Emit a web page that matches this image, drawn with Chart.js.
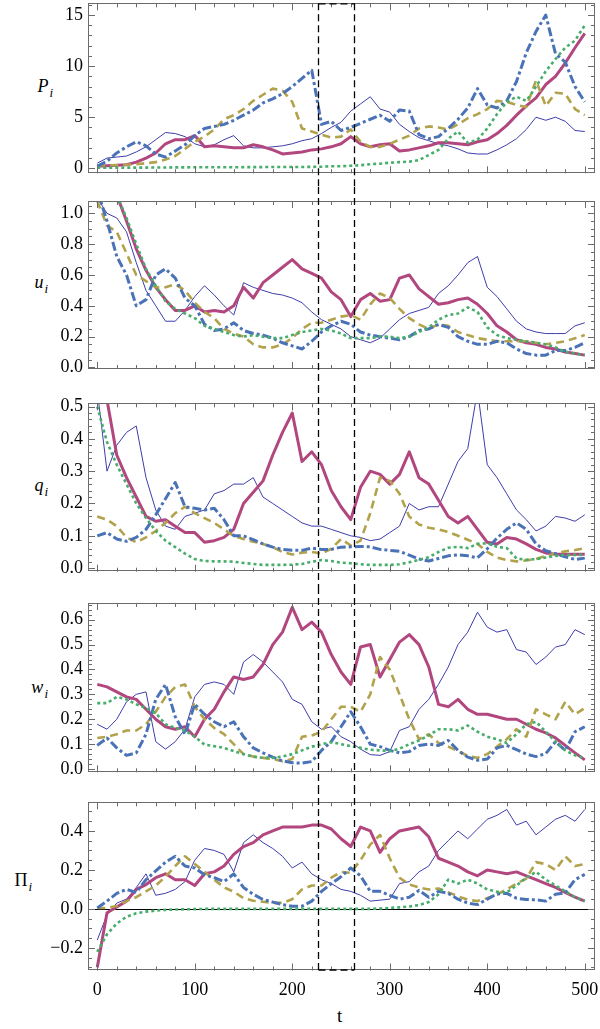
<!DOCTYPE html>
<html>
<head>
<meta charset="utf-8">
<script src="https://cdn.jsdelivr.net/npm/chart.js@4.4.1/dist/chart.umd.min.js"></script>
<style>
  body { margin: 0; background: #fff; }
  #wrap { position: relative; width: 600px; height: 1029px; font-family: 'Liberation Serif', 'Times New Roman', serif; }
  #wrap canvas { position: absolute; left: 0; }
  .ylab { position: absolute; font-size: 18px; line-height: 18px; font-style: italic; white-space: nowrap; text-align: right; }
  .ylab .sub { font-size: 13px; position: relative; top: 5px; margin-left: 1px; }
  .ylab.up { font-style: normal; }
  .ylab.up .sub { font-style: italic; }
  #tlab { position: absolute; left: 337px; top: 1006px; font-size: 19px; line-height: 19px; }
</style>
</head>
<body>
<div id="wrap">
  <div class="ylab" style="right:547px; top:77px;">P<span class="sub">i</span></div>
  <div class="ylab" style="right:552px; top:273px;">u<span class="sub">i</span></div>
  <div class="ylab" style="right:552px; top:476px;">q<span class="sub">i</span></div>
  <div class="ylab" style="right:552px; top:678px;">w<span class="sub">i</span></div>
  <div class="ylab up" style="right:568px; top:871px;">Π<span class="sub">i</span></div>
  <div id="tlab">t</div>
</div>
<script>
// time grid
const tVals = [0,10,20,30,40,50,60,70,80,90,100,110,120,130,140,150,160,170,180,190,
  200,210,220,230,240,250,260,270,280,290,300,310,320,330,340,350,360,370,380,390,
  400,410,420,430,440,450,460,470,480,490,500];

// P_i
const pA = [0.5,1.0,1.1,1.2,1.6,2.1,2.8,3.5,3.4,3.1, 2.4,2.1,2.3,2.8,3.2,2.2,2.0,2.0,2.1,2.2,
  2.4,2.7,2.9,3.4,4.0,4.5,5.6,6.3,7.0,5.8, 5.5,4.3,3.6,3.0,2.7,2.4,2.2,1.9,1.5,1.4,
  1.4,1.8,2.3,2.9,3.8,5.0,4.7,5.0,4.6,3.7, 3.6];
const pB = [0.2,0.25,0.3,0.35,0.6,1.0,1.5,2.4,2.8,2.8, 3.2,2.1,2.2,2.1,2.0,2.0,2.3,2.1,1.8,1.4,
  1.5,1.6,1.8,1.9,2.1,2.4,3.1,2.4,2.1,2.3, 2.4,1.7,1.8,2.0,2.2,2.5,2.5,2.4,2.3,2.6,
  2.8,3.4,4.2,5.2,6.1,6.9,8.2,9.0,10.3,11.8, 13.2];
const pC = [0.3,0.3,0.3,0.35,0.4,0.5,0.6,0.85,1.2,1.9, 2.6,3.1,3.8,4.8,5.2,5.8,6.6,7.2,7.8,7.6,
  6.5,3.9,3.6,3.3,3.0,3.1,3.8,2.6,2.1,2.1, 2.4,2.8,3.2,3.9,4.1,4.0,3.8,4.3,4.9,5.3,
  5.8,6.6,6.5,6.2,6.0,8.6,6.1,7.4,7.3,5.8, 5.2];
const pD = [0.2,0.7,1.5,2.1,2.6,2.2,1.4,1.1,1.7,2.3, 3.2,3.9,4.1,4.3,4.7,5.2,5.7,6.4,6.8,7.3,
  8.0,8.8,9.6,4.3,4.6,3.7,4.0,4.4,4.8,5.2, 4.6,5.7,5.6,3.3,2.9,3.1,3.9,4.8,5.9,7.8,
  6.2,5.9,6.6,8.5,11.3,13.4,15.0,11.2,10.4,8.0, 6.5];
const pE = [0.05,0.05,0.06,0.06,0.07,0.07,0.08,0.08,0.09,0.09, 0.1,0.1,0.1,0.1,0.1,0.11,0.11,0.12,0.12,0.12,
  0.13,0.13,0.14,0.15,0.2,0.2,0.25,0.3,0.4,0.45, 0.55,0.6,0.65,0.8,1.3,1.8,2.9,3.6,2.5,2.8,
  3.9,5.3,6.5,7.0,6.6,8.0,9.5,10.7,11.8,12.5, 14.0];

// u_i
const uA = [1.1,1.0,0.97,0.88,0.68,0.5,0.4,0.3,0.3,0.37, 0.46,0.53,0.47,0.4,0.34,0.55,0.52,0.5,0.48,0.47,
  0.45,0.42,0.36,0.31,0.28,0.25,0.2,0.18,0.16,0.19, 0.25,0.31,0.35,0.37,0.39,0.48,0.53,0.6,0.68,0.72,
  0.52,0.46,0.38,0.3,0.25,0.23,0.22,0.22,0.22,0.27, 0.29];
const uB = [1.35,1.22,1.12,0.95,0.77,0.63,0.52,0.44,0.37,0.37, 0.4,0.36,0.37,0.36,0.4,0.52,0.45,0.55,0.6,0.65,
  0.7,0.64,0.61,0.58,0.49,0.44,0.33,0.44,0.48,0.43, 0.44,0.58,0.6,0.51,0.46,0.41,0.42,0.44,0.45,0.41,
  0.35,0.27,0.23,0.18,0.16,0.15,0.13,0.12,0.1,0.09, 0.08];
const uC = [1.08,0.92,0.88,0.74,0.6,0.56,0.52,0.52,0.54,0.5, 0.42,0.36,0.32,0.25,0.22,0.2,0.15,0.13,0.13,0.15,
  0.19,0.25,0.29,0.29,0.31,0.33,0.34,0.31,0.41,0.48, 0.45,0.38,0.32,0.28,0.25,0.28,0.27,0.23,0.21,0.19,
  0.18,0.17,0.17,0.17,0.17,0.16,0.15,0.16,0.17,0.19, 0.21];
const uD = [1.15,0.95,0.72,0.6,0.4,0.44,0.6,0.64,0.58,0.45, 0.4,0.28,0.24,0.25,0.29,0.24,0.22,0.21,0.19,0.16,
  0.14,0.12,0.17,0.23,0.27,0.3,0.28,0.23,0.21,0.2, 0.19,0.18,0.2,0.24,0.25,0.28,0.26,0.2,0.17,0.15,
  0.15,0.17,0.16,0.12,0.09,0.08,0.08,0.11,0.11,0.13, 0.16];
const uE = [1.4,1.25,1.12,0.97,0.8,0.64,0.53,0.43,0.38,0.35, 0.32,0.27,0.25,0.23,0.21,0.2,0.21,0.2,0.19,0.19,
  0.21,0.23,0.24,0.25,0.24,0.22,0.19,0.19,0.19,0.2, 0.2,0.19,0.2,0.23,0.26,0.31,0.34,0.35,0.39,0.36,
  0.26,0.21,0.19,0.18,0.17,0.16,0.15,0.13,0.1,0.09, 0.08];

// q_i
const qA = [0.55,0.3,0.38,0.42,0.44,0.28,0.18,0.13,0.12,0.16, 0.17,0.18,0.23,0.24,0.26,0.26,0.28,0.22,0.2,0.18,
  0.16,0.14,0.13,0.13,0.12,0.11,0.1,0.095,0.085,0.09, 0.11,0.13,0.2,0.18,0.19,0.19,0.26,0.33,0.37,0.55,
  0.32,0.28,0.23,0.18,0.15,0.115,0.13,0.16,0.155,0.145, 0.165];
const qB = [0.75,0.52,0.35,0.28,0.22,0.16,0.145,0.15,0.13,0.11, 0.11,0.08,0.085,0.095,0.12,0.2,0.235,0.27,0.35,0.42,
  0.48,0.33,0.36,0.32,0.24,0.19,0.15,0.25,0.3,0.29, 0.26,0.29,0.36,0.28,0.26,0.21,0.16,0.14,0.16,0.12,
  0.08,0.075,0.095,0.09,0.075,0.058,0.047,0.043,0.043,0.043, 0.043];
const qC = [0.16,0.15,0.13,0.095,0.08,0.095,0.115,0.14,0.17,0.19, 0.17,0.155,0.14,0.12,0.1,0.09,0.082,0.075,0.065,0.05,
  0.042,0.048,0.05,0.045,0.06,0.09,0.07,0.085,0.17,0.28, 0.27,0.23,0.16,0.135,0.125,0.12,0.112,0.1,0.088,0.075,
  0.05,0.033,0.025,0.021,0.024,0.028,0.038,0.045,0.052,0.056, 0.062];
const qD = [0.1,0.11,0.09,0.083,0.095,0.12,0.165,0.215,0.265,0.19, 0.185,0.18,0.185,0.15,0.1,0.1,0.088,0.075,0.065,0.058,
  0.055,0.055,0.062,0.058,0.058,0.065,0.066,0.067,0.066,0.058, 0.055,0.052,0.04,0.028,0.022,0.03,0.038,0.041,0.038,0.032,
  0.06,0.093,0.12,0.14,0.12,0.075,0.054,0.045,0.035,0.027, 0.031];
const qE = [0.5,0.39,0.32,0.26,0.2,0.155,0.115,0.085,0.065,0.045, 0.028,0.022,0.021,0.021,0.02,0.016,0.013,0.01,0.01,0.01,
  0.011,0.013,0.02,0.025,0.022,0.017,0.015,0.012,0.01,0.01, 0.01,0.012,0.018,0.026,0.034,0.05,0.063,0.066,0.062,0.075,
  0.077,0.066,0.062,0.03,0.026,0.028,0.033,0.038,0.041,0.041, 0.041];

// w_i
const wA = [0.18,0.16,0.2,0.27,0.3,0.31,0.11,0.08,0.11,0.16, 0.29,0.34,0.35,0.34,0.3,0.43,0.46,0.43,0.39,0.35,
  0.28,0.26,0.19,0.16,0.17,0.13,0.11,0.08,0.058,0.055, 0.07,0.155,0.17,0.24,0.28,0.34,0.41,0.5,0.55,0.63,
  0.57,0.55,0.56,0.48,0.47,0.42,0.45,0.49,0.5,0.56, 0.54];
const wB = [0.34,0.33,0.31,0.29,0.28,0.24,0.2,0.17,0.16,0.17, 0.13,0.2,0.24,0.31,0.37,0.36,0.37,0.42,0.5,0.55,
  0.65,0.56,0.59,0.55,0.46,0.39,0.34,0.49,0.5,0.37, 0.44,0.51,0.54,0.5,0.41,0.26,0.25,0.28,0.24,0.22,
  0.22,0.21,0.2,0.2,0.18,0.16,0.145,0.125,0.095,0.065, 0.037];
const wC = [0.125,0.13,0.14,0.155,0.155,0.18,0.23,0.29,0.33,0.34, 0.25,0.2,0.165,0.14,0.1,0.06,0.05,0.045,0.04,0.031,
  0.04,0.13,0.135,0.15,0.2,0.25,0.25,0.23,0.3,0.45, 0.4,0.3,0.2,0.12,0.14,0.105,0.09,0.072,0.053,0.045,
  0.06,0.09,0.12,0.16,0.13,0.24,0.22,0.2,0.27,0.22, 0.245];
const wD = [0.095,0.125,0.085,0.055,0.065,0.14,0.28,0.34,0.21,0.14, 0.26,0.22,0.19,0.17,0.19,0.13,0.085,0.065,0.048,0.033,
  0.025,0.024,0.03,0.075,0.11,0.17,0.23,0.17,0.1,0.09, 0.075,0.065,0.07,0.095,0.1,0.095,0.115,0.075,0.048,0.035,
  0.04,0.085,0.095,0.078,0.06,0.05,0.062,0.11,0.075,0.15, 0.17];
const wE = [0.265,0.265,0.29,0.28,0.26,0.245,0.225,0.18,0.165,0.155, 0.13,0.098,0.092,0.085,0.072,0.06,0.05,0.045,0.045,0.05,
  0.06,0.075,0.09,0.1,0.108,0.1,0.092,0.085,0.078,0.075, 0.072,0.082,0.1,0.115,0.135,0.16,0.16,0.155,0.175,0.15,
  0.13,0.12,0.105,0.14,0.18,0.19,0.15,0.11,0.075,0.055, 0.044];

// Pi_i
const piA = [-0.16,-0.03,0.03,0.05,0.11,0.18,0.07,0.08,0.1,0.14, 0.25,0.31,0.3,0.28,0.19,0.34,0.38,0.34,0.31,0.27,
  0.21,0.24,0.18,0.15,0.13,0.1,0.09,0.07,0.04,0.045, 0.05,0.13,0.14,0.19,0.22,0.3,0.35,0.4,0.36,0.41,
  0.46,0.48,0.51,0.43,0.45,0.38,0.42,0.46,0.48,0.45, 0.51];
const piB = [-0.3,-0.02,0.01,0.04,0.1,0.125,0.16,0.18,0.15,0.15, 0.12,0.18,0.19,0.22,0.28,0.32,0.34,0.38,0.4,0.42,
  0.42,0.42,0.43,0.43,0.41,0.36,0.32,0.42,0.4,0.29, 0.36,0.4,0.41,0.42,0.37,0.26,0.24,0.22,0.19,0.17,
  0.2,0.19,0.18,0.19,0.17,0.15,0.13,0.11,0.085,0.06, 0.04];
const piC = [0.005,0.005,0.015,0.04,0.06,0.09,0.12,0.165,0.22,0.27, 0.23,0.19,0.15,0.11,0.088,0.055,0.042,0.037,0.031,0.031,
  0.05,0.1,0.12,0.12,0.16,0.19,0.185,0.25,0.33,0.38, 0.26,0.16,0.125,0.11,0.1,0.105,0.085,0.065,0.047,0.04,
  0.055,0.075,0.1,0.13,0.155,0.24,0.23,0.2,0.27,0.22, 0.23];
const piD = [0.005,0.04,0.08,0.1,0.085,0.15,0.195,0.24,0.27,0.22, 0.21,0.175,0.16,0.14,0.18,0.11,0.075,0.048,0.035,0.022,
  0.014,0.014,0.04,0.09,0.13,0.165,0.21,0.17,0.09,0.09, 0.07,0.05,0.06,0.095,0.06,0.09,0.08,0.05,0.03,0.022,
  0.05,0.077,0.08,0.055,0.048,0.047,0.04,0.075,0.082,0.15, 0.177];
const piE = [-0.22,-0.13,-0.075,-0.04,-0.022,-0.014,-0.009,-0.005,-0.003,-0.002, -0.001,0,0,0,0,0,0,0,0,0,
  0,0,0,0,0,0,0,0,0,0.002, 0.005,0.008,0.012,0.02,0.035,0.075,0.15,0.13,0.15,0.13,
  0.1,0.088,0.085,0.12,0.16,0.19,0.15,0.12,0.09,0.06, 0.04];

// axis ticks
const xMajor = [0, 100, 200, 300, 400, 500];
const pTicks = [0, 5, 10, 15];
const uTicks = [0, 0.2, 0.4, 0.6, 0.8, 1.0];
const qTicks = [0, 0.1, 0.2, 0.3, 0.4, 0.5];
const wTicks = [0, 0.1, 0.2, 0.3, 0.4, 0.5, 0.6];
const piTicks = [-0.2, 0, 0.2, 0.4];
const bandT = [226, 263];   // dashed window

const styles = [
  { color: '#3d3dab', width: 1,   dash: [] },
  { color: '#b2467f', width: 3,   dash: [] },
  { color: '#b2a24b', width: 2.6, dash: [8, 5] },
  { color: '#4a72b6', width: 3,   dash: [9, 3, 3, 3] },
  { color: '#46ad6b', width: 2.6, dash: [3, 3] }
];

const panels = [
  { top: 0,   h: 187, padT: 3.3,  padB: 13.7, min: -0.49, max: 16.15, ticks: pTicks, minor: 1,    fmt: v => String(v), series: [pA, pB, pC, pD, pE] },
  { top: 187, h: 199, padT: 14,   padB: 17,   min: -0.01, max: 1.08,  ticks: uTicks, minor: 0.05, fmt: v => v.toFixed(1), series: [uA, uB, uC, uD, uE] },
  { top: 386, h: 201, padT: 17.3, padB: 15.3, min: -0.011, max: 0.51, ticks: qTicks, minor: 0.02, fmt: v => v.toFixed(1), series: [qA, qB, qC, qD, qE] },
  { top: 587, h: 200, padT: 16,   padB: 14.7, min: -0.013, max: 0.667, ticks: wTicks, minor: 0.02, fmt: v => v.toFixed(1), series: [wA, wB, wC, wD, wE] },
  { top: 787, h: 242, padT: 15.3, padB: 0,    min: -0.316, max: 0.547, ticks: piTicks, minor: 0.05, fmt: v => (v < 0 ? '\u2212' : '') + Math.abs(v).toFixed(1), series: [piA, piB, piC, piD, piE], zero: true }
];

const tickFont = { family: "'Liberation Serif', 'Times New Roman', serif", size: 18 };

function minorList(min, max, step, majors) {
  const out = [];
  for (let k = Math.ceil(min / step - 1e-9); k * step <= max + 1e-9; k++) {
    const v = k * step;
    if (!majors.some(m => Math.abs(m - v) < step / 10)) out.push(v);
  }
  return out;
}

const framePlugin = {
  id: 'frame',
  beforeDatasetsDraw(chart) {
    const p = chart.options.plugins.frame;
    if (!p.zero) return;
    const { ctx, chartArea: a, scales: { y } } = chart;
    const py = Math.round(y.getPixelForValue(0)) + 0.5;
    ctx.save();
    ctx.strokeStyle = '#000';
    ctx.lineWidth = 1;
    ctx.beginPath();
    ctx.moveTo(a.left, py); ctx.lineTo(a.right, py);
    ctx.stroke();
    ctx.restore();
  },
  afterDatasetsDraw(chart) {
    const p = chart.options.plugins.frame;
    const { ctx, chartArea: a, scales: { x, y } } = chart;
    ctx.save();
    // frame
    ctx.strokeStyle = '#6b6b6b';
    ctx.lineWidth = 1;
    ctx.strokeRect(Math.round(a.left) + 0.5, Math.round(a.top) + 0.5, Math.round(a.width) - 1, Math.round(a.height) - 1);
    // inward ticks
    ctx.beginPath();
    const xMinor = minorList(0, 500, 20, xMajor);
    [[xMajor, 7], [xMinor, 4]].forEach(([vals, len]) => vals.forEach(v => {
      const px = Math.round(x.getPixelForValue(v)) + 0.5;
      ctx.moveTo(px, a.top); ctx.lineTo(px, a.top + len);
      ctx.moveTo(px, a.bottom); ctx.lineTo(px, a.bottom - len);
    }));
    const yMinor = minorList(p.min, p.max, p.minor, p.ticks);
    [[p.ticks, 7], [yMinor, 4]].forEach(([vals, len]) => vals.forEach(v => {
      if (v < p.min || v > p.max) return;
      const py = Math.round(y.getPixelForValue(v)) + 0.5;
      ctx.moveTo(a.left, py); ctx.lineTo(a.left + len, py);
      ctx.moveTo(a.right, py); ctx.lineTo(a.right - len, py);
    }));
    ctx.stroke();
    // dashed window across all panels
    ctx.strokeStyle = '#000';
    ctx.lineWidth = 1.3;
    ctx.setLineDash([7, 4]);
    const y0 = p.first ? a.top : 0;
    const y1 = p.last ? a.bottom : chart.height;
    const bx = bandT.map(v => Math.round(x.getPixelForValue(v)) + 0.5);
    ctx.beginPath();
    bx.forEach(px => { ctx.moveTo(px, y0); ctx.lineTo(px, y1); });
    if (p.first) { ctx.moveTo(bx[0], a.top + 0.5); ctx.lineTo(bx[1], a.top + 0.5); }
    if (p.last) { ctx.moveTo(bx[0], a.bottom - 0.5); ctx.lineTo(bx[1], a.bottom - 0.5); }
    ctx.stroke();
    ctx.restore();
  }
};

const wrap = document.getElementById('wrap');
panels.forEach((p, idx) => {
  const last = idx === panels.length - 1;
  const canvas = document.createElement('canvas');
  canvas.width = 600;
  canvas.height = p.h;
  canvas.style.top = p.top + 'px';
  wrap.appendChild(canvas);

  new Chart(canvas, {
    type: 'line',
    data: {
      datasets: p.series.map((vals, i) => ({
        data: vals.map((v, k) => ({ x: tVals[k], y: v })),
        borderColor: styles[i].color,
        borderWidth: styles[i].width,
        borderDash: styles[i].dash,
        borderCapStyle: 'butt',
        borderJoinStyle: 'round',
        pointRadius: 0,
        fill: false,
        tension: 0,
        clip: 0,
        order: 5 - i
      }))
    },
    options: {
      responsive: false,
      animation: false,
      events: [],
      layout: { padding: { left: 0, right: 5, top: p.padT, bottom: p.padB } },
      plugins: {
        legend: { display: false },
        tooltip: { enabled: false },
        frame: { min: p.min, max: p.max, ticks: p.ticks, minor: p.minor, zero: !!p.zero, first: idx === 0, last: last }
      },
      scales: {
        x: {
          type: 'linear', min: -9.5, max: 510.5, display: last,
          grid: { display: false, drawTicks: false },
          border: { display: false },
          ticks: { font: tickFont, color: '#000', padding: 9, maxRotation: 0, autoSkip: false, callback: v => String(v) },
          afterBuildTicks: s => { s.ticks = xMajor.map(v => ({ value: v })); },
          afterFit: s => { if (last) { s.height = 58.5; s.paddingLeft = 0; s.paddingRight = 0; } }
        },
        y: {
          type: 'linear', min: p.min, max: p.max,
          grid: { display: false, drawTicks: false },
          border: { display: false },
          ticks: { font: tickFont, color: '#000', padding: 5, autoSkip: false, callback: v => p.fmt(v) },
          afterBuildTicks: s => { s.ticks = p.ticks.map(v => ({ value: v })); },
          afterFit: s => { s.width = 88; s.paddingTop = 0; s.paddingBottom = 0; }
        }
      }
    },
    plugins: [framePlugin]
  });
});
</script>
</body>
</html>
